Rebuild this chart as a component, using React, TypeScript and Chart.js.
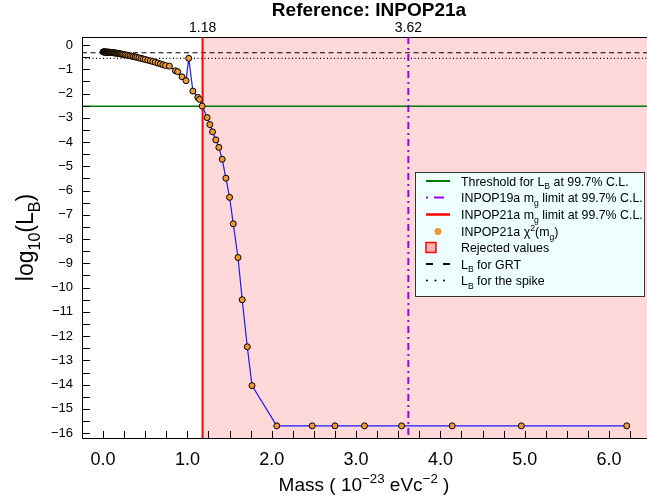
import { useEffect, useRef } from 'react';
import { Chart, registerables } from 'chart.js';

Chart.register(...registerables);

// INPOP21a likelihood scan: graviton mass (10^-23 eV c^-2) against log10(L_B)
const massValues = [
  0.0, 0.005, 0.01, 0.015, 0.02, 0.025, 0.03, 0.035, 0.04, 0.045, 0.05, 0.055, 0.06, 0.065, 0.07, 0.075, 0.08, 0.085, 0.09, 0.095, 0.1,
  0.11, 0.12, 0.13, 0.14, 0.15, 0.16, 0.17, 0.18, 0.19, 0.2,
  0.215, 0.23, 0.245, 0.26, 0.28, 0.3, 0.32, 0.34, 0.36, 0.38, 0.4,
  0.425, 0.45, 0.475, 0.5, 0.53, 0.56, 0.59, 0.62, 0.65, 0.68, 0.71, 0.74,
  0.786, 0.857, 0.885, 0.936, 0.984, 1.016, 1.065, 1.123, 1.143, 1.175,
  1.234, 1.266, 1.298, 1.337, 1.373, 1.413, 1.456, 1.5, 1.544, 1.6, 1.65, 1.71, 1.766,
  2.06, 2.48, 2.75, 3.1, 3.54, 4.14, 4.96, 6.21,
];
const logLikelihood = [
  -0.285, -0.286, -0.287, -0.288, -0.289, -0.29, -0.291, -0.292, -0.293, -0.294, -0.295, -0.296, -0.297, -0.298, -0.3, -0.301, -0.303, -0.304, -0.306, -0.307, -0.309,
  -0.313, -0.317, -0.322, -0.327, -0.332, -0.338, -0.344, -0.35, -0.356, -0.362,
  -0.372, -0.382, -0.392, -0.402, -0.416, -0.43, -0.445, -0.46, -0.476, -0.492, -0.508,
  -0.53, -0.552, -0.574, -0.597, -0.624, -0.652, -0.682, -0.712, -0.745, -0.778, -0.812, -0.846,
  -0.87, -1.06, -1.1, -1.31, -1.47, -0.55, -1.9, -2.16, -2.24, -2.52,
  -2.99, -3.28, -3.58, -3.91, -4.22, -4.71, -5.49, -6.28, -7.37, -8.76, -10.5, -12.44, -14.04,
  -15.7, -15.7, -15.7, -15.7, -15.7, -15.7, -15.7, -15.7,
];

// Reference levels and mass limits
const thresholdLogL = -2.52; // log10(0.003), 99.7% C.L.
const grtLogL = -0.32;
const spikeLogL = -0.55;
const inpop21aLimit = 1.18;
const inpop19aLimit = 3.62;
const topTickLabels = ['1.18', '3.62'];

// Axis ranges and tick layout
const xMin = -0.25;
const xMax = 6.45;
const yMin = -16.2;
const yMax = 0.33;
const xLabelValues = [0, 1, 2, 3, 4, 5, 6];
const yLabelValues = [0, -1, -2, -3, -4, -5, -6, -7, -8, -9, -10, -11, -12, -13, -14, -15, -16];
const xMinorStep = 0.25;
const yMinorStep = 0.5;

const FONT = '"Liberation Sans", Arial, Helvetica, sans-serif';
const COLORS = {
  threshold: '#007a00',
  inpop19a: '#a400e8',
  inpop21a: '#ff0000',
  curve: '#1a1aff',
  marker: '#ee9933',
  rejected: '#ffd9d9',
  legendFill: '#edfffe',
};

type Seg = { t: string; sub?: boolean; sup?: boolean };

function drawRich(
  ctx: CanvasRenderingContext2D,
  segs: Seg[],
  x: number,
  y: number,
  size: number,
  align: 'left' | 'center',
  weight = 'normal'
) {
  const sizeOf = (s: Seg) => (s.sub || s.sup ? size * 0.7 : size);
  const widths = segs.map((s) => {
    ctx.font = `${weight} ${sizeOf(s)}px ${FONT}`;
    return ctx.measureText(s.t).width;
  });
  const total = widths.reduce((a, b) => a + b, 0);
  let cx = align === 'center' ? x - total / 2 : x;
  ctx.textAlign = 'left';
  ctx.textBaseline = 'alphabetic';
  segs.forEach((s, i) => {
    ctx.font = `${weight} ${sizeOf(s)}px ${FONT}`;
    const dy = s.sub ? size * 0.3 : s.sup ? -size * 0.42 : 0;
    ctx.fillText(s.t, cx, y + dy);
    cx += widths[i];
  });
}

function buildTicks(min: number, max: number, step: number) {
  const out: { value: number }[] = [];
  const n0 = Math.ceil(min / step - 1e-9);
  const n1 = Math.floor(max / step + 1e-9);
  for (let n = n0; n <= n1; n++) out.push({ value: +(n * step).toFixed(4) });
  return out;
}

const isLabelled = (v: number, list: number[]) => list.some((l) => Math.abs(l - v) < 1e-6);

const decorations = {
  id: 'decorations',
  beforeDraw(chart: any) {
    const { ctx, chartArea, scales } = chart;
    const x0 = scales.x.getPixelForValue(inpop21aLimit);
    ctx.save();
    ctx.fillStyle = COLORS.rejected;
    ctx.fillRect(x0, chartArea.top, chartArea.right - x0, chartArea.bottom - chartArea.top);
    ctx.restore();
  },
  beforeDatasetsDraw(chart: any) {
    const { ctx, chartArea, scales } = chart;
    const { left, right, top, bottom } = chartArea;
    ctx.save();
    ctx.beginPath();
    ctx.rect(left, top, right - left, bottom - top);
    ctx.clip();
    const hLine = (v: number, color: string, width: number, dash: number[]) => {
      const y = scales.y.getPixelForValue(v);
      ctx.strokeStyle = color;
      ctx.lineWidth = width;
      ctx.setLineDash(dash);
      ctx.beginPath();
      ctx.moveTo(left, y);
      ctx.lineTo(right, y);
      ctx.stroke();
    };
    const vLine = (v: number, color: string, width: number, dash: number[]) => {
      const x = scales.x.getPixelForValue(v);
      ctx.strokeStyle = color;
      ctx.lineWidth = width;
      ctx.setLineDash(dash);
      ctx.beginPath();
      ctx.moveTo(x, top);
      ctx.lineTo(x, bottom);
      ctx.stroke();
    };
    hLine(grtLogL, '#000', 1.2, [5, 3.5]);
    hLine(spikeLogL, '#000', 1.2, [1, 2.5]);
    hLine(thresholdLogL, COLORS.threshold, 1.5, []);
    vLine(inpop21aLimit, COLORS.inpop21a, 2, []);
    vLine(inpop19aLimit, COLORS.inpop19a, 2, [7, 4, 2, 4]);
    ctx.restore();
  },
  afterDatasetsDraw(chart: any) {
    // inward-pointing tick marks
    const { ctx, chartArea, scales } = chart;
    ctx.save();
    ctx.strokeStyle = '#000';
    ctx.lineWidth = 1;
    ctx.setLineDash([]);
    ctx.beginPath();
    for (const t of buildTicks(xMin, xMax, xMinorStep)) {
      const x = Math.round(scales.x.getPixelForValue(t.value)) + 0.5;
      ctx.moveTo(x, chartArea.bottom);
      ctx.lineTo(x, chartArea.bottom - 7);
    }
    for (const t of buildTicks(yMin, yMax, yMinorStep)) {
      const y = Math.round(scales.y.getPixelForValue(t.value)) + 0.5;
      ctx.moveTo(chartArea.left, y);
      ctx.lineTo(chartArea.left + 8, y);
    }
    ctx.stroke();
    ctx.restore();
  },
  afterDraw(chart: any) {
    const { ctx, chartArea } = chart;
    ctx.save();
    ctx.fillStyle = '#000';

    // title
    ctx.font = `bold 19px ${FONT}`;
    ctx.textAlign = 'center';
    ctx.textBaseline = 'middle';
    ctx.fillText('Reference: INPOP21a', 369, 11);

    // x axis title
    drawRich(
      ctx,
      [{ t: 'Mass ( 10' }, { t: '\u221223', sup: true }, { t: ' eVc' }, { t: '\u22122', sup: true }, { t: ' )' }],
      364,
      491,
      19,
      'center'
    );

    // y axis title
    ctx.save();
    ctx.translate(33, (chartArea.top + chartArea.bottom) / 2);
    ctx.rotate(-Math.PI / 2);
    drawRich(ctx, [{ t: 'log' }, { t: '10', sub: true }, { t: '(L' }, { t: 'B', sub: true }, { t: ')' }], 0, 0, 23, 'center');
    ctx.restore();

    // legend
    const bx = 415, by = 172, bw = 230, bh = 125;
    ctx.fillStyle = COLORS.legendFill;
    ctx.fillRect(bx, by, bw, bh);
    ctx.strokeStyle = '#333';
    ctx.lineWidth = 1;
    ctx.strokeRect(bx + 0.5, by + 0.5, bw - 1, bh - 1);

    const rows = [181, 197.5, 214.5, 231.5, 247.5, 264, 280.5];
    const sx0 = 426, sx1 = 450, tx = 461;
    const line = (y: number, color: string, width: number, dash: number[]) => {
      ctx.strokeStyle = color;
      ctx.lineWidth = width;
      ctx.setLineDash(dash);
      ctx.beginPath();
      ctx.moveTo(sx0, y);
      ctx.lineTo(sx1, y);
      ctx.stroke();
      ctx.setLineDash([]);
    };
    line(rows[0], COLORS.threshold, 2, []);
    line(rows[1], COLORS.inpop19a, 2, [2, 6, 10, 8]);
    line(rows[2], COLORS.inpop21a, 2.5, []);
    ctx.fillStyle = COLORS.marker;
    ctx.beginPath();
    ctx.arc(438, rows[3], 3.5, 0, Math.PI * 2);
    ctx.fill();
    ctx.fillStyle = '#ffb4b4';
    ctx.fillRect(426, rows[4] - 5, 10, 10);
    ctx.strokeStyle = COLORS.inpop21a;
    ctx.lineWidth = 1.5;
    ctx.strokeRect(426, rows[4] - 5, 10, 10);
    line(rows[5], '#000', 2, [7, 10, 7, 10]);
    ctx.fillStyle = '#000';
    for (const dx of [427, 435.5, 444]) {
      ctx.beginPath();
      ctx.arc(dx, rows[6], 1, 0, Math.PI * 2);
      ctx.fill();
    }

    ctx.fillStyle = '#000';
    const texts: Seg[][] = [
      [{ t: 'Threshold for L' }, { t: 'B', sub: true }, { t: ' at 99.7% C.L.' }],
      [{ t: 'INPOP19a m' }, { t: 'g', sub: true }, { t: ' limit at 99.7% C.L.' }],
      [{ t: 'INPOP21a m' }, { t: 'g', sub: true }, { t: ' limit at 99.7% C.L.' }],
      [{ t: 'INPOP21a \u03c7' }, { t: '2', sup: true }, { t: '(m' }, { t: 'g', sub: true }, { t: ')' }],
      [{ t: 'Rejected values' }],
      [{ t: 'L' }, { t: 'B', sub: true }, { t: ' for GRT' }],
      [{ t: 'L' }, { t: 'B', sub: true }, { t: ' for the spike' }],
    ];
    texts.forEach((segs, i) => drawRich(ctx, segs, tx, rows[i] + 4.5, 12.4, 'left'));
    ctx.restore();
  },
};

export default function App() {
  const canvasRef = useRef<HTMLCanvasElement | null>(null);

  useEffect(() => {
    const canvas = canvasRef.current;
    if (!canvas) return;
    const points = massValues.map((m, i) => ({ x: m, y: logLikelihood[i] }));

    const chart = new Chart(canvas, {
      type: 'line',
      data: {
        datasets: [
          {
            label: 'INPOP21a',
            data: points,
            borderColor: COLORS.curve,
            borderWidth: 1.2,
            tension: 0,
            pointRadius: 3,
            pointBackgroundColor: COLORS.marker,
            pointBorderColor: '#000',
            pointBorderWidth: 1,
            xAxisID: 'x',
            yAxisID: 'y',
          },
        ],
      },
      options: {
        responsive: false,
        animation: false,
        events: [],
        layout: { padding: 0, autoPadding: false },
        plugins: {
          legend: { display: false },
          tooltip: { enabled: false },
          title: { display: false },
        },
        scales: {
          x: {
            type: 'linear',
            position: 'bottom',
            min: xMin,
            max: xMax,
            grid: { display: false, drawTicks: false },
            border: { display: true, color: '#000', width: 1 },
            afterBuildTicks: (scale: any) => {
              scale.ticks = buildTicks(xMin, xMax, xMinorStep);
            },
            afterFit: (scale: any) => {
              scale.height = 57;
              scale.paddingLeft = 0;
              scale.paddingRight = 0;
            },
            ticks: {
              autoSkip: false,
              maxRotation: 0,
              minRotation: 0,
              padding: 11,
              color: '#000',
              font: { family: FONT, size: 18 },
              callback: (v: any) => (isLabelled(Number(v), xLabelValues) ? Number(v).toFixed(1) : ''),
            },
          },
          xTop: {
            type: 'linear',
            position: 'top',
            min: xMin,
            max: xMax,
            grid: { display: false, drawTicks: false },
            border: { display: true, color: '#000', width: 1 },
            afterBuildTicks: (scale: any) => {
              scale.ticks = [{ value: inpop21aLimit }, { value: inpop19aLimit }];
            },
            afterFit: (scale: any) => {
              scale.height = 37;
              scale.paddingLeft = 0;
              scale.paddingRight = 0;
            },
            ticks: {
              autoSkip: false,
              maxRotation: 0,
              minRotation: 0,
              padding: 0,
              color: '#000',
              font: { family: FONT, size: 14 },
              callback: (_v: any, i: number) => topTickLabels[i],
            },
          },
          y: {
            type: 'linear',
            position: 'left',
            min: yMin,
            max: yMax,
            grid: { display: false, drawTicks: false },
            border: { display: true, color: '#000', width: 1 },
            afterBuildTicks: (scale: any) => {
              scale.ticks = buildTicks(yMin, yMax, yMinorStep).reverse();
            },
            afterFit: (scale: any) => {
              scale.width = 82;
              scale.paddingTop = 0;
              scale.paddingBottom = 0;
            },
            ticks: {
              autoSkip: false,
              padding: 9,
              color: '#000',
              font: { family: FONT, size: 13 },
              callback: (v: any) => {
                const n = Number(v);
                if (!isLabelled(n, yLabelValues)) return '';
                return n < 0 ? '\u2212' + Math.abs(n) : '0';
              },
            },
          },
        },
      },
      plugins: [decorations],
    });

    return () => chart.destroy();
  }, []);

  return (
    <div style={{ position: 'fixed', left: 0, top: 0, width: 647, height: 495, background: '#fff' }}>
      <canvas ref={canvasRef} width={647} height={495} style={{ display: 'block', width: 647, height: 495 }} />
    </div>
  );
}
